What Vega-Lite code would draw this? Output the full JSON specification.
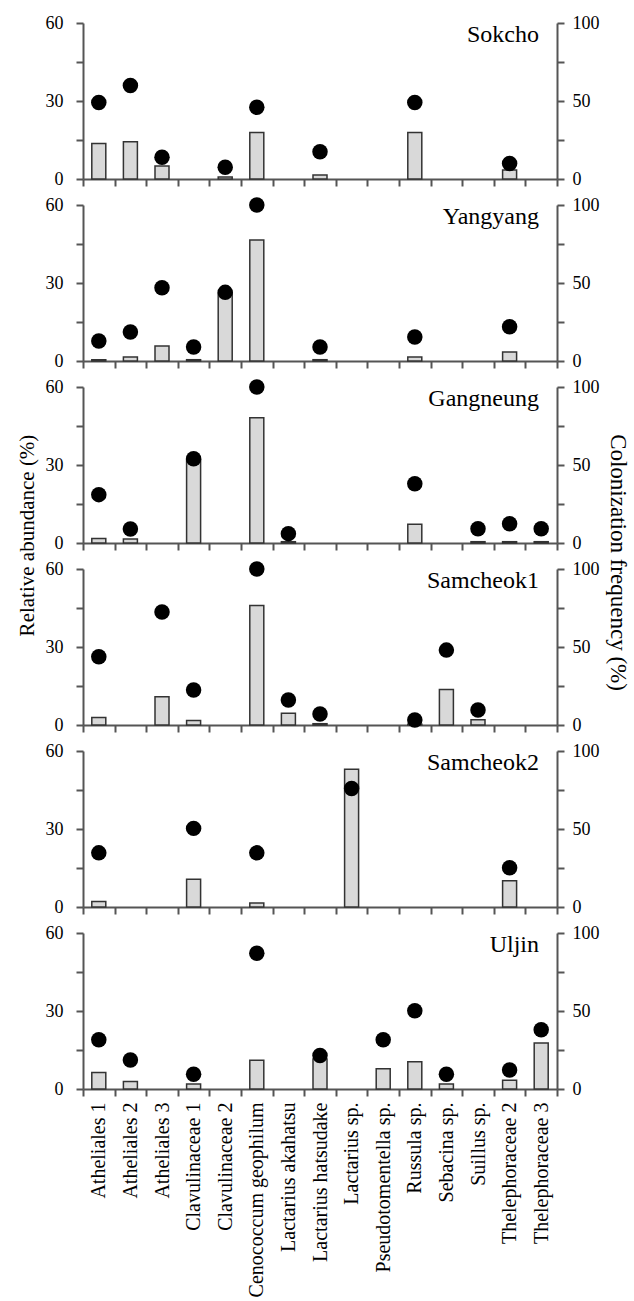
{
  "$schema": "https://vega.github.io/schema/vega-lite/v6.json",
  "background": "white",
  "padding": {"left": 16, "top": 14, "right": 5, "bottom": 5},
  "config": {
    "font": "Liberation Serif, Times New Roman, serif",
    "view": {"stroke": null},
    "axis": {
      "domainColor": "#555555", "domainWidth": 2,
      "tickColor": "#555555", "tickWidth": 2, "tickSize": 7,
      "labelFont": "Liberation Serif, Times New Roman, serif", "labelFontSize": 18, "labelColor": "#000000",
      "titleFont": "Liberation Serif, Times New Roman, serif", "titleFontWeight": "normal", "titleColor": "#000000",
      "labelLimit": 0,
      "grid": false
    },
    "title": {"font": "Liberation Serif, Times New Roman, serif", "fontSize": 24, "fontWeight": "normal", "color": "#000000"}
  },
  "bounds": "flush",
  "spacing": 26,
  "datasets": {
    "d": [
      {"site": "Sokcho", "taxon": "Atheliales 1", "abundance": 13.7, "colonization": 49},
      {"site": "Sokcho", "taxon": "Atheliales 2", "abundance": 14.3, "colonization": 60},
      {"site": "Sokcho", "taxon": "Atheliales 3", "abundance": 5, "colonization": 14},
      {"site": "Sokcho", "taxon": "Clavulinaceae 2", "abundance": 0.8, "colonization": 7.5},
      {"site": "Sokcho", "taxon": "Cenococcum geophilum", "abundance": 17.9, "colonization": 46},
      {"site": "Sokcho", "taxon": "Lactarius hatsudake", "abundance": 1.5, "colonization": 17.5},
      {"site": "Sokcho", "taxon": "Russula sp.", "abundance": 17.9, "colonization": 49},
      {"site": "Sokcho", "taxon": "Thelephoraceae 2", "abundance": 3.5, "colonization": 10},

      {"site": "Yangyang", "taxon": "Atheliales 1", "abundance": 0.5, "colonization": 12.8},
      {"site": "Yangyang", "taxon": "Atheliales 2", "abundance": 1.5, "colonization": 18.6},
      {"site": "Yangyang", "taxon": "Atheliales 3", "abundance": 5.8, "colonization": 47},
      {"site": "Yangyang", "taxon": "Clavulinaceae 1", "abundance": 0.5, "colonization": 9},
      {"site": "Yangyang", "taxon": "Clavulinaceae 2", "abundance": 26, "colonization": 44},
      {"site": "Yangyang", "taxon": "Cenococcum geophilum", "abundance": 46.5, "colonization": 100},
      {"site": "Yangyang", "taxon": "Lactarius hatsudake", "abundance": 0.5, "colonization": 9},
      {"site": "Yangyang", "taxon": "Russula sp.", "abundance": 1.5, "colonization": 15.4},
      {"site": "Yangyang", "taxon": "Thelephoraceae 2", "abundance": 3.5, "colonization": 22},

      {"site": "Gangneung", "taxon": "Atheliales 1", "abundance": 1.7, "colonization": 31},
      {"site": "Gangneung", "taxon": "Atheliales 2", "abundance": 1.5, "colonization": 9},
      {"site": "Gangneung", "taxon": "Clavulinaceae 1", "abundance": 32, "colonization": 54},
      {"site": "Gangneung", "taxon": "Cenococcum geophilum", "abundance": 48.2, "colonization": 100},
      {"site": "Gangneung", "taxon": "Lactarius akahatsu", "abundance": 0.5, "colonization": 6},
      {"site": "Gangneung", "taxon": "Russula sp.", "abundance": 7.2, "colonization": 38},
      {"site": "Gangneung", "taxon": "Suillus sp.", "abundance": 0.5, "colonization": 9.2},
      {"site": "Gangneung", "taxon": "Thelephoraceae 2", "abundance": 0.5, "colonization": 12.4},
      {"site": "Gangneung", "taxon": "Thelephoraceae 3", "abundance": 0.5, "colonization": 9.2},

      {"site": "Samcheok1", "taxon": "Atheliales 1", "abundance": 2.9, "colonization": 43.7},
      {"site": "Samcheok1", "taxon": "Atheliales 3", "abundance": 10.9, "colonization": 72.5},
      {"site": "Samcheok1", "taxon": "Clavulinaceae 1", "abundance": 1.7, "colonization": 22.4},
      {"site": "Samcheok1", "taxon": "Cenococcum geophilum", "abundance": 46, "colonization": 100},
      {"site": "Samcheok1", "taxon": "Lactarius akahatsu", "abundance": 4.5, "colonization": 16},
      {"site": "Samcheok1", "taxon": "Lactarius hatsudake", "abundance": 0.5, "colonization": 7},
      {"site": "Samcheok1", "taxon": "Russula sp.", "abundance": 0.3, "colonization": 3.2},
      {"site": "Samcheok1", "taxon": "Sebacina sp.", "abundance": 13.7, "colonization": 48},
      {"site": "Samcheok1", "taxon": "Suillus sp.", "abundance": 2, "colonization": 9.6},

      {"site": "Samcheok2", "taxon": "Atheliales 1", "abundance": 2.1, "colonization": 34.7},
      {"site": "Samcheok2", "taxon": "Clavulinaceae 1", "abundance": 10.7, "colonization": 50.4},
      {"site": "Samcheok2", "taxon": "Cenococcum geophilum", "abundance": 1.5, "colonization": 34.7},
      {"site": "Samcheok2", "taxon": "Lactarius sp.", "abundance": 53, "colonization": 76},
      {"site": "Samcheok2", "taxon": "Thelephoraceae 2", "abundance": 10.1, "colonization": 25.2},

      {"site": "Uljin", "taxon": "Atheliales 1", "abundance": 6.3, "colonization": 31.6},
      {"site": "Uljin", "taxon": "Atheliales 2", "abundance": 2.9, "colonization": 18.6},
      {"site": "Uljin", "taxon": "Clavulinaceae 1", "abundance": 1.9, "colonization": 9.5},
      {"site": "Uljin", "taxon": "Cenococcum geophilum", "abundance": 11.1, "colonization": 87},
      {"site": "Uljin", "taxon": "Lactarius hatsudake", "abundance": 11.5, "colonization": 21.5},
      {"site": "Uljin", "taxon": "Pseudotomentella sp.", "abundance": 7.8, "colonization": 31.6},
      {"site": "Uljin", "taxon": "Russula sp.", "abundance": 10.5, "colonization": 50.2},
      {"site": "Uljin", "taxon": "Sebacina sp.", "abundance": 1.9, "colonization": 9.5},
      {"site": "Uljin", "taxon": "Thelephoraceae 2", "abundance": 3.4, "colonization": 12.2},
      {"site": "Uljin", "taxon": "Thelephoraceae 3", "abundance": 17.7, "colonization": 38}
    ]
  },
  "vconcat": [
    {
      "width": 474, "height": 156,
      "title": {"text": "Sokcho", "anchor": "end", "frame": "group", "offset": -33, "dx": -18},
      "data": {"name": "d"},
      "transform": [{"filter": "datum.site === 'Sokcho'"}],
      "encoding": {"x": {"field": "taxon", "type": "nominal", "scale": {"domain": ["Atheliales 1", "Atheliales 2", "Atheliales 3", "Clavulinaceae 1", "Clavulinaceae 2", "Cenococcum geophilum", "Lactarius akahatsu", "Lactarius hatsudake", "Lactarius sp.", "Pseudotomentella sp.", "Russula sp.", "Sebacina sp.", "Suillus sp.", "Thelephoraceae 2", "Thelephoraceae 3"], "paddingInner": 0, "paddingOuter": 0}, "axis": {"labels": false, "title": null, "tickBand": "extent"}}},
      "layer": [
        {"mark": {"type": "bar", "width": 14, "fill": "#d9d9d9", "stroke": "#333333", "strokeWidth": 1.5}, "encoding": {"y": {"field": "abundance", "type": "quantitative", "scale": {"domain": [0, 60]}, "axis": {"values": [0, 15, 30, 45, 60], "labelExpr": "datum.value % 30 === 0 ? datum.label : ''", "title": null, "labelPadding": 13}}}},
        {"mark": {"type": "circle", "size": 240, "color": "#000000", "opacity": 1, "clip": false}, "encoding": {"y": {"field": "colonization", "type": "quantitative", "scale": {"domain": [0, 100]}, "axis": {"orient": "right", "values": [0, 25, 50, 75, 100], "labelExpr": "datum.value % 50 === 0 ? datum.label : ''", "title": null, "labelPadding": 8}}}}
      ],
      "resolve": {"scale": {"y": "independent"}}
    },
    {
      "width": 474, "height": 156,
      "title": {"text": "Yangyang", "anchor": "end", "frame": "group", "offset": -33, "dx": -18},
      "data": {"name": "d"},
      "transform": [{"filter": "datum.site === 'Yangyang'"}],
      "encoding": {"x": {"field": "taxon", "type": "nominal", "scale": {"domain": ["Atheliales 1", "Atheliales 2", "Atheliales 3", "Clavulinaceae 1", "Clavulinaceae 2", "Cenococcum geophilum", "Lactarius akahatsu", "Lactarius hatsudake", "Lactarius sp.", "Pseudotomentella sp.", "Russula sp.", "Sebacina sp.", "Suillus sp.", "Thelephoraceae 2", "Thelephoraceae 3"], "paddingInner": 0, "paddingOuter": 0}, "axis": {"labels": false, "title": null, "tickBand": "extent"}}},
      "layer": [
        {"mark": {"type": "bar", "width": 14, "fill": "#d9d9d9", "stroke": "#333333", "strokeWidth": 1.5}, "encoding": {"y": {"field": "abundance", "type": "quantitative", "scale": {"domain": [0, 60]}, "axis": {"values": [0, 15, 30, 45, 60], "labelExpr": "datum.value % 30 === 0 ? datum.label : ''", "title": null, "labelPadding": 13}}}},
        {"mark": {"type": "circle", "size": 240, "color": "#000000", "opacity": 1, "clip": false}, "encoding": {"y": {"field": "colonization", "type": "quantitative", "scale": {"domain": [0, 100]}, "axis": {"orient": "right", "values": [0, 25, 50, 75, 100], "labelExpr": "datum.value % 50 === 0 ? datum.label : ''", "title": null, "labelPadding": 8}}}}
      ],
      "resolve": {"scale": {"y": "independent"}}
    },
    {
      "width": 474, "height": 156,
      "title": {"text": "Gangneung", "anchor": "end", "frame": "group", "offset": -33, "dx": -18},
      "data": {"name": "d"},
      "transform": [{"filter": "datum.site === 'Gangneung'"}],
      "encoding": {"x": {"field": "taxon", "type": "nominal", "scale": {"domain": ["Atheliales 1", "Atheliales 2", "Atheliales 3", "Clavulinaceae 1", "Clavulinaceae 2", "Cenococcum geophilum", "Lactarius akahatsu", "Lactarius hatsudake", "Lactarius sp.", "Pseudotomentella sp.", "Russula sp.", "Sebacina sp.", "Suillus sp.", "Thelephoraceae 2", "Thelephoraceae 3"], "paddingInner": 0, "paddingOuter": 0}, "axis": {"labels": false, "title": null, "tickBand": "extent"}}},
      "layer": [
        {"mark": {"type": "bar", "width": 14, "fill": "#d9d9d9", "stroke": "#333333", "strokeWidth": 1.5}, "encoding": {"y": {"field": "abundance", "type": "quantitative", "scale": {"domain": [0, 60]}, "axis": {"values": [0, 15, 30, 45, 60], "labelExpr": "datum.value % 30 === 0 ? datum.label : ''", "title": "Relative abundance (%)", "titleFontSize": 21, "titleY": 148, "titlePadding": 8, "labelPadding": 13}}}},
        {"mark": {"type": "circle", "size": 240, "color": "#000000", "opacity": 1, "clip": false}, "encoding": {"y": {"field": "colonization", "type": "quantitative", "scale": {"domain": [0, 100]}, "axis": {"orient": "right", "values": [0, 25, 50, 75, 100], "labelExpr": "datum.value % 50 === 0 ? datum.label : ''", "title": "Colonization frequency (%)", "titleFontSize": 23, "titleY": 175, "titlePadding": 6, "labelPadding": 8}}}}
      ],
      "resolve": {"scale": {"y": "independent"}}
    },
    {
      "width": 474, "height": 156,
      "title": {"text": "Samcheok1", "anchor": "end", "frame": "group", "offset": -33, "dx": -18},
      "data": {"name": "d"},
      "transform": [{"filter": "datum.site === 'Samcheok1'"}],
      "encoding": {"x": {"field": "taxon", "type": "nominal", "scale": {"domain": ["Atheliales 1", "Atheliales 2", "Atheliales 3", "Clavulinaceae 1", "Clavulinaceae 2", "Cenococcum geophilum", "Lactarius akahatsu", "Lactarius hatsudake", "Lactarius sp.", "Pseudotomentella sp.", "Russula sp.", "Sebacina sp.", "Suillus sp.", "Thelephoraceae 2", "Thelephoraceae 3"], "paddingInner": 0, "paddingOuter": 0}, "axis": {"labels": false, "title": null, "tickBand": "extent"}}},
      "layer": [
        {"mark": {"type": "bar", "width": 14, "fill": "#d9d9d9", "stroke": "#333333", "strokeWidth": 1.5}, "encoding": {"y": {"field": "abundance", "type": "quantitative", "scale": {"domain": [0, 60]}, "axis": {"values": [0, 15, 30, 45, 60], "labelExpr": "datum.value % 30 === 0 ? datum.label : ''", "title": null, "labelPadding": 13}}}},
        {"mark": {"type": "circle", "size": 240, "color": "#000000", "opacity": 1, "clip": false}, "encoding": {"y": {"field": "colonization", "type": "quantitative", "scale": {"domain": [0, 100]}, "axis": {"orient": "right", "values": [0, 25, 50, 75, 100], "labelExpr": "datum.value % 50 === 0 ? datum.label : ''", "title": null, "labelPadding": 8}}}}
      ],
      "resolve": {"scale": {"y": "independent"}}
    },
    {
      "width": 474, "height": 156,
      "title": {"text": "Samcheok2", "anchor": "end", "frame": "group", "offset": -33, "dx": -18},
      "data": {"name": "d"},
      "transform": [{"filter": "datum.site === 'Samcheok2'"}],
      "encoding": {"x": {"field": "taxon", "type": "nominal", "scale": {"domain": ["Atheliales 1", "Atheliales 2", "Atheliales 3", "Clavulinaceae 1", "Clavulinaceae 2", "Cenococcum geophilum", "Lactarius akahatsu", "Lactarius hatsudake", "Lactarius sp.", "Pseudotomentella sp.", "Russula sp.", "Sebacina sp.", "Suillus sp.", "Thelephoraceae 2", "Thelephoraceae 3"], "paddingInner": 0, "paddingOuter": 0}, "axis": {"labels": false, "title": null, "tickBand": "extent"}}},
      "layer": [
        {"mark": {"type": "bar", "width": 14, "fill": "#d9d9d9", "stroke": "#333333", "strokeWidth": 1.5}, "encoding": {"y": {"field": "abundance", "type": "quantitative", "scale": {"domain": [0, 60]}, "axis": {"values": [0, 15, 30, 45, 60], "labelExpr": "datum.value % 30 === 0 ? datum.label : ''", "title": null, "labelPadding": 13}}}},
        {"mark": {"type": "circle", "size": 240, "color": "#000000", "opacity": 1, "clip": false}, "encoding": {"y": {"field": "colonization", "type": "quantitative", "scale": {"domain": [0, 100]}, "axis": {"orient": "right", "values": [0, 25, 50, 75, 100], "labelExpr": "datum.value % 50 === 0 ? datum.label : ''", "title": null, "labelPadding": 8}}}}
      ],
      "resolve": {"scale": {"y": "independent"}}
    },
    {
      "width": 474, "height": 156,
      "title": {"text": "Uljin", "anchor": "end", "frame": "group", "offset": -33, "dx": -18},
      "data": {"name": "d"},
      "transform": [{"filter": "datum.site === 'Uljin'"}],
      "encoding": {"x": {"field": "taxon", "type": "nominal", "scale": {"domain": ["Atheliales 1", "Atheliales 2", "Atheliales 3", "Clavulinaceae 1", "Clavulinaceae 2", "Cenococcum geophilum", "Lactarius akahatsu", "Lactarius hatsudake", "Lactarius sp.", "Pseudotomentella sp.", "Russula sp.", "Sebacina sp.", "Suillus sp.", "Thelephoraceae 2", "Thelephoraceae 3"], "paddingInner": 0, "paddingOuter": 0}, "axis": {"labels": true, "labelAngle": -90, "labelAlign": "right", "labelBaseline": "middle", "labelFontSize": 20, "labelPadding": 6, "title": null, "tickBand": "extent"}}},
      "layer": [
        {"mark": {"type": "bar", "width": 14, "fill": "#d9d9d9", "stroke": "#333333", "strokeWidth": 1.5}, "encoding": {"y": {"field": "abundance", "type": "quantitative", "scale": {"domain": [0, 60]}, "axis": {"values": [0, 15, 30, 45, 60], "labelExpr": "datum.value % 30 === 0 ? datum.label : ''", "title": null, "labelPadding": 13}}}},
        {"mark": {"type": "circle", "size": 240, "color": "#000000", "opacity": 1, "clip": false}, "encoding": {"y": {"field": "colonization", "type": "quantitative", "scale": {"domain": [0, 100]}, "axis": {"orient": "right", "values": [0, 25, 50, 75, 100], "labelExpr": "datum.value % 50 === 0 ? datum.label : ''", "title": null, "labelPadding": 8}}}}
      ],
      "resolve": {"scale": {"y": "independent"}}
    }
  ]
}
